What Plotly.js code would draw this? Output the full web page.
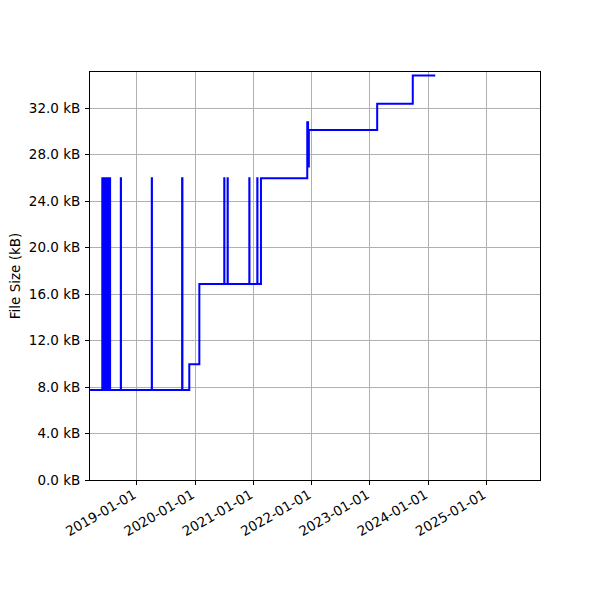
<!DOCTYPE html>
<html>
<head>
<meta charset="utf-8">
<script src="https://cdn.plot.ly/plotly-3.0.1.min.js"></script>
<style>html,body{margin:0;padding:0;background:#fff;}#chart{width:600px;height:600px;}</style>
</head>
<body>
<div id="chart"></div>
<script>
// Commit dates and file sizes (kB), drawn as a post-step line
var dates = [
  '2018-03-14',
  '2018-05-30','2018-06-02','2018-06-04','2018-06-08','2018-06-10','2018-06-15',
  '2018-06-18','2018-06-22','2018-06-25','2018-06-29','2018-07-02','2018-07-06',
  '2018-07-09','2018-07-13','2018-07-15','2018-07-18',
  '2018-09-23','2018-09-24',
  '2019-04-05','2019-04-06',
  '2019-10-12','2019-10-14',
  '2019-11-26',
  '2020-01-28',
  '2020-07-02','2020-07-03',
  '2020-07-23','2020-07-24',
  '2020-12-06','2020-12-07',
  '2021-01-25','2021-01-26',
  '2021-02-17',
  '2021-12-04','2021-12-09','2021-12-14',
  '2023-02-15',
  '2023-09-26',
  '2024-02-14'
];
var sizes = [
  7.74,
  25.95,7.74,25.95,7.74,25.95,7.74,
  25.95,7.74,25.95,7.74,25.95,7.74,
  25.95,7.74,25.95,7.74,
  25.95,7.74,
  25.95,7.74,
  25.95,7.74,
  9.95,
  16.86,
  25.95,16.86,
  25.95,16.86,
  25.95,16.86,
  25.95,16.86,
  25.95,
  30.77,26.96,30.11,
  32.37,
  34.8,
  34.8
];
var yTickVals = [0,4,8,12,16,20,24,28,32];
var yTickText = ['0.0 kB','4.0 kB','8.0 kB','12.0 kB','16.0 kB','20.0 kB','24.0 kB','28.0 kB','32.0 kB'];
var xTickVals = ['2019-01-01','2020-01-01','2021-01-01','2022-01-01','2023-01-01','2024-01-01','2025-01-01'];
var xTickText = ['2019-01-01','2020-01-01','2021-01-01','2022-01-01','2023-01-01','2024-01-01','2025-01-01'];

var trace = {
  x: dates, y: sizes, type: 'scatter', mode: 'lines',
  line: {shape: 'hv', color: '#0000ff', width: 2},
  hoverinfo: 'skip'
};
var font = {family: 'DejaVu Sans, sans-serif', size: 13.5, color: '#000'};
var layout = {
  width: 600, height: 600,
  margin: {l: 90, r: 60, t: 72, b: 120},
  paper_bgcolor: '#fff', plot_bgcolor: '#fff',
  showlegend: false,
  font: font,
  xaxis: {
    type: 'date', range: ['2018-03-14', '2025-12-01'],
    tickmode: 'array', tickvals: xTickVals, ticktext: xTickText,
    tickangle: -30, ticks: 'outside', ticklen: 4, tickcolor: '#000', tickwidth: 1,
    ticklabelshift: -3, ticklabelstandoff: -3,
    showgrid: true, gridcolor: '#b0b0b0', gridwidth: 1,
    showline: true, linecolor: '#000', linewidth: 1, mirror: true,
    zeroline: false, tickfont: font
  },
  yaxis: {
    range: [0, 35.1],
    tickmode: 'array', tickvals: yTickVals, ticktext: yTickText,
    ticks: 'outside', ticklen: 4, tickcolor: '#000', tickwidth: 1,
    ticklabelstandoff: 2,
    showgrid: true, gridcolor: '#b0b0b0', gridwidth: 1,
    showline: true, linecolor: '#000', linewidth: 1, mirror: true,
    zeroline: false, tickfont: font,
    title: {text: 'File Size (kB)', font: font, standoff: 5}
  }
};
Plotly.newPlot('chart', [trace], layout, {staticPlot: true, displayModeBar: false});
</script>
</body>
</html>
